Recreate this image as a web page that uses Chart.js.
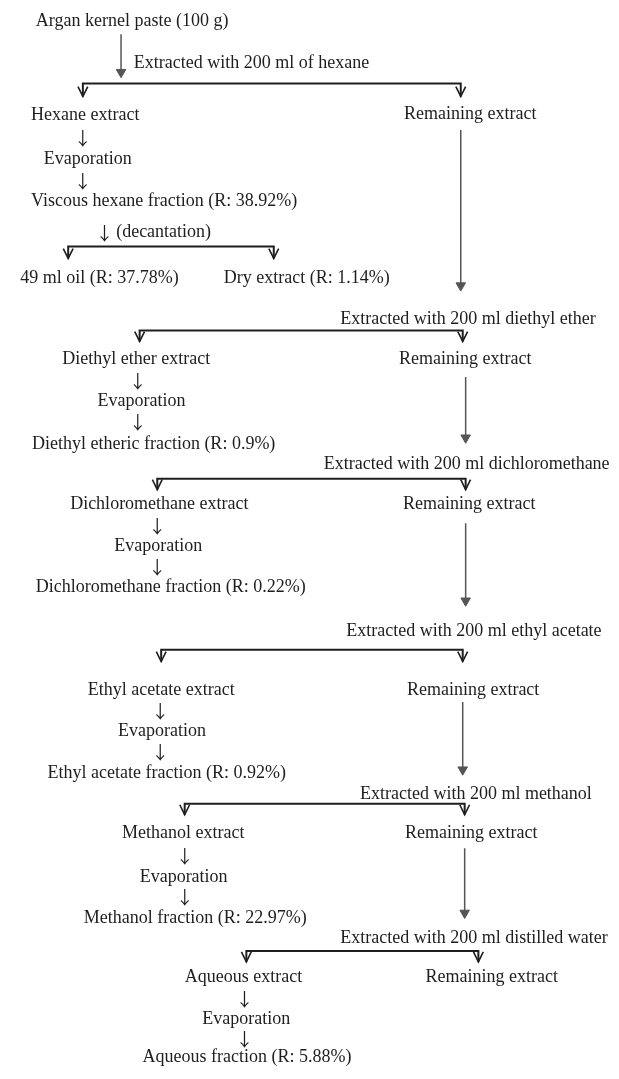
<!DOCTYPE html>
<html>
<head>
<meta charset="utf-8">
<script src="https://cdn.jsdelivr.net/npm/chart.js@4.4.1/dist/chart.umd.min.js"></script>
<style>
    html, body { margin: 0; padding: 0; background: #fff; }
    canvas { display: block; }
</style>
</head>
<body>
<canvas id="flowChart" width="619" height="1079"></canvas>
<script>
// 流程图文字（左对齐，坐标为数据单位）
const stepText = [
    'Argan kernel paste (100 g)',
    'Extracted with 200 ml of hexane',
    'Hexane extract', 'Remaining extract',
    'Evaporation',
    'Viscous hexane fraction (R: 38.92%)',
    '(decantation)',
    '49 ml oil (R: 37.78%)', 'Dry extract (R: 1.14%)',
    'Extracted with 200 ml diethyl ether',
    'Diethyl ether extract', 'Remaining extract',
    'Evaporation',
    'Diethyl etheric fraction (R: 0.9%)',
    'Extracted with 200 ml dichloromethane',
    'Dichloromethane extract', 'Remaining extract',
    'Evaporation',
    'Dichloromethane fraction (R: 0.22%)',
    'Extracted with 200 ml ethyl acetate',
    'Ethyl acetate extract', 'Remaining extract',
    'Evaporation',
    'Ethyl acetate fraction (R: 0.92%)',
    'Extracted with 200 ml methanol',
    'Methanol extract', 'Remaining extract',
    'Evaporation',
    'Methanol fraction (R: 22.97%)',
    'Extracted with 200 ml distilled water',
    'Aqueous extract', 'Remaining extract',
    'Evaporation',
    'Aqueous fraction (R: 5.88%)'
];
const stepX = [30, 130, 25, 406, 38, 25, 112, 14, 222, 341, 57, 401, 93, 26, 324, 65, 405, 110, 30,
    347, 83, 409, 114, 42, 361, 118, 407, 136, 79, 341, 182, 428, 200, 139];
const stepY = [15, 57, 110, 109, 155, 197, 229, 275, 275, 317, 357, 357, 400, 443, 463, 504, 504, 546, 588,
    632, 692, 692, 734, 776, 797, 837, 837, 881, 923, 943, 983, 983, 1025, 1064];

// 小箭头 ↓
const downX = [78, 78, 100, 134, 134, 154, 154, 157, 157, 182, 182, 243, 243];
const downY = [133, 177, 229, 379, 421, 526, 567, 713, 755, 860, 902, 1005, 1045];

// 长箭头（实心箭头）
const arrowX = [117, 464, 469, 469, 466, 468];
const arrowStart = [28, 125, 375, 523, 704, 852];
const arrowTip = [72, 288, 442, 607, 778, 923];

// 分支（横线 + 两个空心箭头）
const branchY = [78, 243, 328, 478, 651, 807, 956];
const branchLeft = [78, 63, 136, 154, 158, 182, 245];
const branchRight = [464, 273, 466, 469, 466, 468, 482];
const branchTip = [91, 255, 339, 489, 663, 818, 967];

const INK = '#1e1e1e';
const GRAY = '#555';
const FONT = '18px "Liberation Serif", "Times New Roman", serif';
const ARROW_FONT = '18px "Noto Sans CJK SC", "DejaVu Sans", sans-serif';

function lineSet(points, color, width) {
    return {
        type: 'line',
        data: points,
        borderColor: color,
        borderWidth: width,
        pointRadius: 0,
        fill: false,
        tension: 0
    };
}

function buildDatasets() {
    const sets = [];
    // 长箭头箭杆
    arrowX.forEach((x, i) => {
        sets.push(lineSet([{ x: x, y: arrowStart[i] }, { x: x, y: arrowTip[i] - 6 }], GRAY, 1.5));
    });
    // 实心箭头头部
    sets.push({
        type: 'scatter',
        data: arrowX.map((x, i) => ({ x: x, y: arrowTip[i] - 5.5 })),
        pointStyle: 'triangle',
        rotation: 180,
        radius: 5.5,
        backgroundColor: GRAY,
        borderColor: GRAY,
        borderWidth: 1
    });
    // 分支
    branchY.forEach((y, i) => {
        const xl = branchLeft[i], xr = branchRight[i], tip = branchTip[i];
        sets.push(lineSet([{ x: xl, y: tip }, { x: xl, y: y }, { x: xr, y: y }, { x: xr, y: tip }], INK, 2));
        [xl, xr].forEach(x => {
            sets.push(lineSet([{ x: x - 5, y: tip - 10 }, { x: x, y: tip }, { x: x + 5, y: tip - 10 }], INK, 1.6));
        });
    });
    return sets;
}

const textPlugin = {
    id: 'flowText',
    afterDatasetsDraw(chart) {
        const ctx = chart.ctx;
        const xs = chart.scales.x, ys = chart.scales.y;
        ctx.save();
        ctx.fillStyle = INK;
        ctx.font = FONT;
        ctx.textBaseline = 'middle';
        ctx.textAlign = 'left';
        stepText.forEach((t, i) => {
            ctx.fillText(t, xs.getPixelForValue(stepX[i]), ys.getPixelForValue(stepY[i]));
        });
        ctx.font = ARROW_FONT;
        ctx.textAlign = 'center';
        downX.forEach((x, i) => {
            ctx.fillText('\u2193', xs.getPixelForValue(x), ys.getPixelForValue(downY[i]));
        });
        ctx.restore();
    }
};

document.addEventListener('DOMContentLoaded', function() {
    const ctx = document.getElementById('flowChart');
    new Chart(ctx, {
        type: 'scatter',
        data: { datasets: buildDatasets() },
        options: {
            responsive: false,
            animation: false,
            layout: { padding: 0 },
            plugins: {
                legend: { display: false },
                tooltip: { enabled: false }
            },
            scales: {
                x: { type: 'linear', min: 0, max: 619, display: false },
                y: { type: 'linear', min: 0, max: 1079, reverse: true, display: false }
            }
        },
        plugins: [textPlugin]
    });
});
</script>
</body>
</html>
